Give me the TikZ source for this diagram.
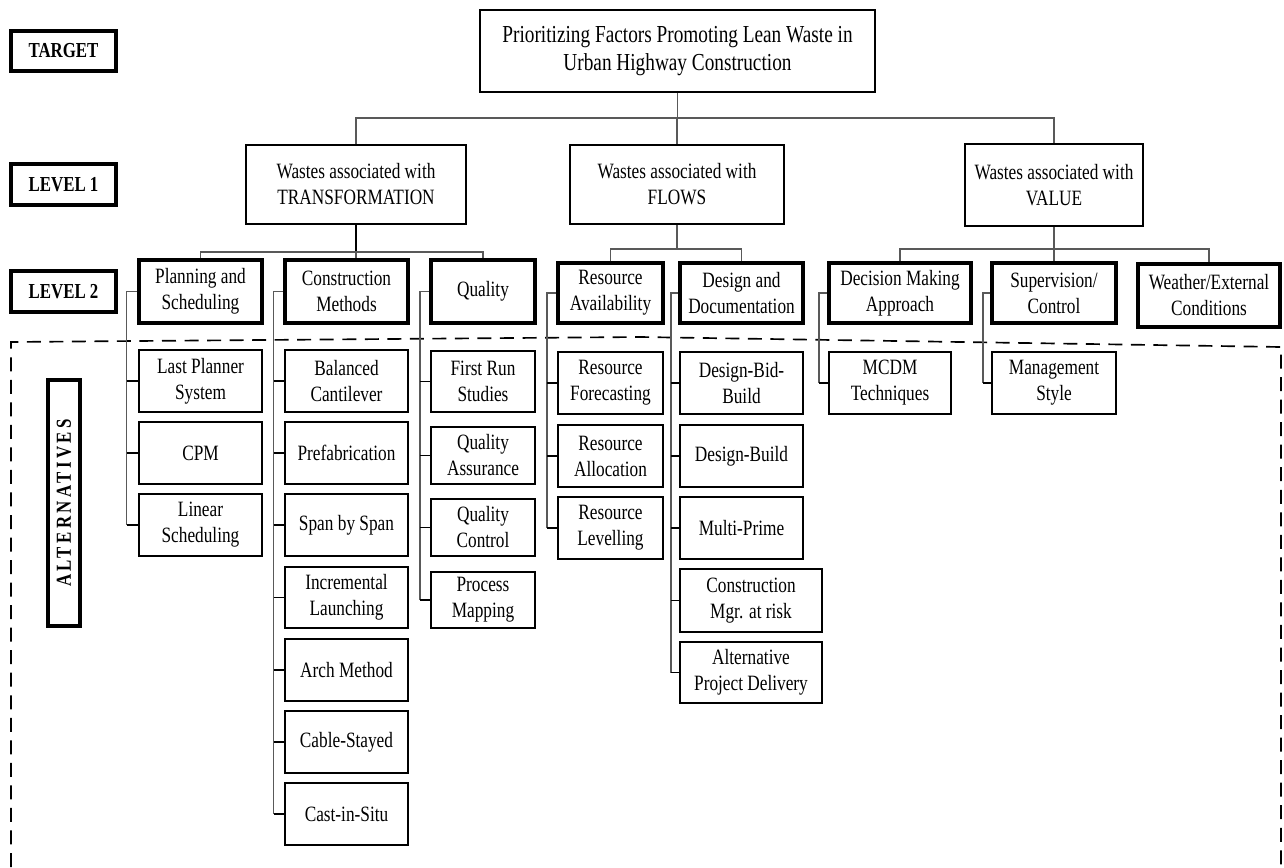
\documentclass[tikz,border=0pt]{standalone}
\usepackage{fontspec}
\setmainfont{Liberation Serif}[FakeStretch=0.79]
\newcommand\mybox[7]{\node[#1, minimum width={(#5-#3)*0.75pt}, minimum height={(#6-#4)*0.75pt}] (#2) at ({(#3+#5)/2},{(#4+#6)/2}) {#7};}
\begin{document}
\begin{tikzpicture}[x=0.75pt,y=-0.75pt,
  base/.style={draw=black, rectangle, inner sep=0pt, align=center, font=\fontsize{16.4}{19.5}\selectfont},
  thin/.style={base, line width=1.1pt},
  one/.style={base, line width=1.25pt},
  title/.style={base, line width=1.25pt, font=\fontsize{18.3}{21}\selectfont},
  lvl/.style={base, line width=2.4pt},
  lab/.style={base, line width=2.4pt, font=\fontsize{16}{18}\selectfont\bfseries},
  conn/.style={draw=black!65, line width=0.8pt},
  thickconn/.style={draw=black, line width=1.6pt},
  tick/.style={draw=black, line width=1.1pt},
  dashbox/.style={draw=black, line width=1.25pt, dash pattern=on 10.5pt off 6.4pt}
]
\useasboundingbox (0,0) rectangle (1284,867);

% dashed alternatives frame
\draw[dashbox] (11,867) -- (11,342) -- (640,337) -- (1281,347) -- (1281,867);

% side labels
\mybox{lab}{tg}{11}{31}{116}{71}{TARGET}
\mybox{lab}{l1}{11}{164}{116}{205}{LEVEL 1}
\mybox{lab}{l2}{11}{271}{116}{312}{LEVEL 2}
\node[lab, rotate=90, minimum width={246*0.75pt}, minimum height={32*0.75pt}] (alt) at (64,503) {\addfontfeature{LetterSpace=16}ALTERNATIVES};

% target
\mybox{title}{top}{480}{10}{875}{92}{Prioritizing Factors Promoting Lean Waste in\\Urban Highway Construction}

% level 1
\mybox{one}{tr}{246}{145}{466}{224}{Wastes associated with\\TRANSFORMATION}
\mybox{one}{fl}{570}{145}{784}{224}{Wastes associated with\\FLOWS}
\mybox{one}{va}{965}{144}{1143}{226}{Wastes associated with\\VALUE}

% level 2
\mybox{lvl}{pl}{139}{260}{262}{323}{Planning and\\Scheduling}
\mybox{lvl}{cm}{285}{260}{408}{323}{Construction\\Methods}
\mybox{lvl}{qu}{431}{260}{535}{323}{Quality}
\mybox{lvl}{ra}{558}{263}{663}{323}{Resource\\Availability}
\mybox{lvl}{dd}{680}{263}{803}{323}{Design and\\Documentation}
\mybox{lvl}{dm}{829}{263}{971}{323}{Decision Making\\Approach}
\mybox{lvl}{su}{992}{263}{1116}{323}{Supervision/\\Control}
\mybox{lvl}{we}{1138}{264}{1280}{327}{Weather/External\\Conditions}

% alternatives
\mybox{thin}{lp}{139}{350}{262}{412}{Last Planner\\System}
\mybox{thin}{cpm}{139}{422}{262}{484}{CPM}
\mybox{thin}{ls}{139}{494}{262}{556}{Linear\\Scheduling}

\mybox{thin}{bc}{285}{350}{408}{412}{Balanced\\Cantilever}
\mybox{thin}{pf}{285}{422}{408}{484}{Prefabrication}
\mybox{thin}{sp}{285}{494}{408}{556}{Span by Span}
\mybox{thin}{il}{285}{567}{408}{628}{Incremental\\Launching}
\mybox{thin}{am}{285}{639}{408}{701}{Arch Method}
\mybox{thin}{cs}{285}{711}{408}{773}{Cable-Stayed}
\mybox{thin}{cis}{285}{783}{408}{845}{Cast-in-Situ}

\mybox{thin}{fr}{431}{351}{535}{412}{First Run\\Studies}
\mybox{thin}{qa}{431}{427}{535}{484}{Quality\\Assurance}
\mybox{thin}{qc}{431}{499}{535}{556}{Quality\\Control}
\mybox{thin}{pm}{431}{572}{535}{628}{Process\\Mapping}

\mybox{thin}{rf}{558}{352}{663}{414}{Resource\\Forecasting}
\mybox{thin}{rl}{558}{425}{663}{487}{Resource\\Allocation}
\mybox{thin}{rv}{558}{497}{663}{559}{Resource\\Levelling}

\mybox{thin}{dbb}{680}{352}{803}{414}{Design-Bid-\\Build}
\mybox{thin}{db}{680}{425}{803}{487}{Design-Build}
\mybox{thin}{mp}{680}{497}{803}{559}{Multi-Prime}
\mybox{thin}{cmr}{680}{569}{822}{632}{Construction\\Mgr. at risk}
\mybox{thin}{apd}{680}{642}{822}{703}{Alternative\\Project Delivery}

\mybox{thin}{mc}{829}{352}{951}{414}{MCDM\\Techniques}
\mybox{thin}{ms}{992}{352}{1116}{414}{Management\\Style}

% connectors: target to level 1
\coordinate (bA) at (0,118);
\draw[conn] (top.south) -- (top.south |- bA);
\draw[conn] (tr.north) -- (tr.north |- bA) -- (va.north |- bA) -- (va.north);
\draw[conn] (fl.north) -- (fl.north |- bA);

% level 1 to level 2
\coordinate (bT) at (0,252);
\coordinate (bF) at (0,249);
\draw[thickconn] (tr.south) -- (tr.south |- bT);
\draw[conn] (pl.north) -- (pl.north |- bT) -- (qu.north |- bT) -- (qu.north);
\draw[conn] (tr.south |- bT) -- (tr.south |- cm.north);
\draw[conn] (fl.south) -- (fl.south |- bF);
\draw[conn] (ra.north) -- (ra.north |- bF) -- (dd.north |- bF) -- (dd.north);
\draw[conn] (dm.north) -- (dm.north |- bF) -- (we.north |- bF) -- (we.north);
\draw[conn] (va.south) -- (su.north);

% trees to alternatives
\coordinate (xpl) at (126.5,0);
\coordinate (xcm) at (273.5,0);
\coordinate (xqu) at (420,0);
\coordinate (xra) at (547,0);
\coordinate (xdd) at (671,0);
\coordinate (xdm) at (819,0);
\coordinate (xsu) at (983,0);

\draw[conn] (pl.west) -- (pl.west -| xpl) -- (ls.west -| xpl);
\foreach \c in {lp,cpm,ls} \draw[tick] (\c.west -| xpl) -- (\c.west);

\draw[conn] (cm.west) -- (cm.west -| xcm) -- (cis.west -| xcm);
\foreach \c in {bc,pf,sp,il,am,cs,cis} \draw[tick] (\c.west -| xcm) -- (\c.west);

\draw[conn] (qu.west) -- (qu.west -| xqu) -- (pm.west -| xqu);
\foreach \c in {fr,qa,qc,pm} \draw[tick] (\c.west -| xqu) -- (\c.west);

\draw[conn] (ra.west) -- (ra.west -| xra) -- (rv.west -| xra);
\foreach \c in {rf,rl,rv} \draw[tick] (\c.west -| xra) -- (\c.west);

\draw[conn] (dd.west) -- (dd.west -| xdd) -- (apd.west -| xdd);
\foreach \c in {dbb,db,mp,cmr,apd} \draw[tick] (\c.west -| xdd) -- (\c.west);

\draw[conn] (dm.west) -- (dm.west -| xdm) -- (mc.west -| xdm);
\draw[tick] (mc.west -| xdm) -- (mc.west);

\draw[conn] (su.west) -- (su.west -| xsu) -- (ms.west -| xsu);
\draw[tick] (ms.west -| xsu) -- (ms.west);
\end{tikzpicture}
\end{document}
